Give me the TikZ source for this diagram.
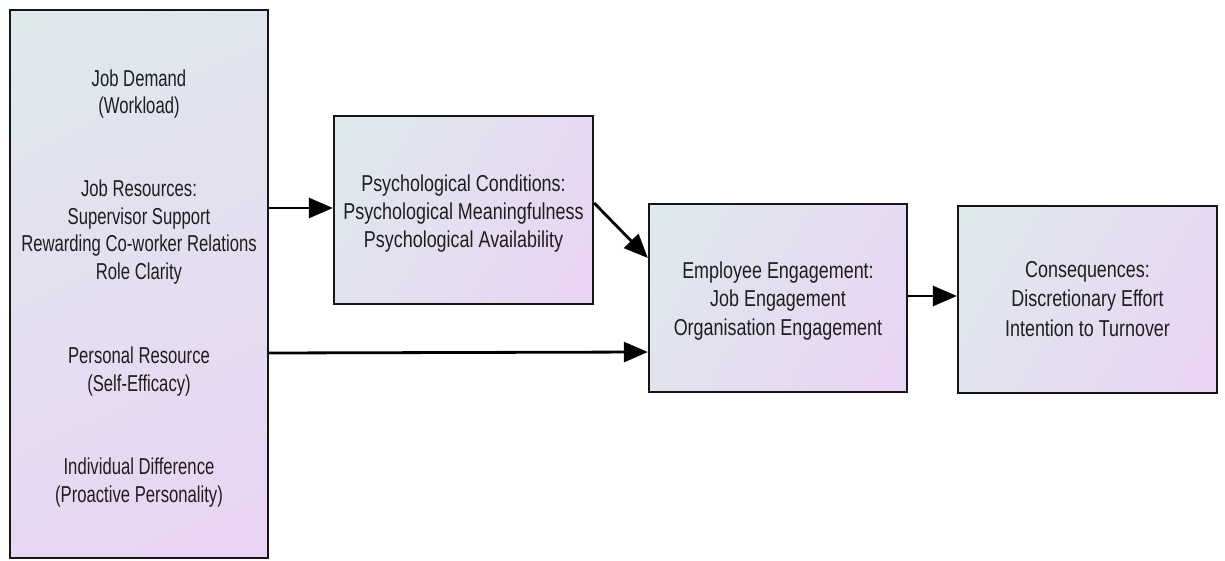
\documentclass[tikz,border=0pt]{standalone}
\usepackage{fontspec}
\setmainfont[FakeStretch=0.78]{Liberation Sans}
\newfontfamily\narrowfont[FakeStretch=0.725]{Liberation Sans}
\usetikzlibrary{arrows.meta}
\definecolor{boxstart}{RGB}{222,234,236}
\definecolor{boxend}{RGB}{234,211,244}
\definecolor{edge}{RGB}{22,22,22}
\definecolor{ink}{RGB}{30,30,30}
% corner-to-corner fill: lavender at the bottom end, grey-cyan at the top end
\pgfdeclareverticalshading{boxfade}{100bp}{color(0bp)=(boxend); color(16bp)=(boxend);
  color(84bp)=(boxstart); color(100bp)=(boxstart)}
% strut that pads the first line of a block's text
\newcommand\firstline[1]{\rule{0pt}{#1}}
\begin{document}
\begin{tikzpicture}[x=1pt,y=-1pt,
  block/.style={draw=edge, line width=2.3pt, rectangle, inner sep=0pt,
    shade, shading=boxfade, shading angle=60,
    align=center, text=ink,
    font=\fontsize{23}{28}\selectfont},
  link/.style={line width=2.8pt, draw=black,
    -{Triangle[length=24pt,width=20pt]}}]
  \useasboundingbox (0,0) rectangle (1225,561);

  % antecedents
  \node[block, minimum width=258pt, minimum height=548pt, shading angle=25,
        font=\narrowfont\fontsize{23}{27.5}\selectfont] (ante) at (139,284)
    {\firstline{25pt}Job Demand\\(Workload)\\[55.5pt]
     Job Resources:\\Supervisor Support\\Rewarding Co-worker Relations\\Role Clarity\\[57pt]
     Personal Resource\\(Self-Efficacy)\\[56pt]
     Individual Difference\\(Proactive Personality)};

  % mediators and outcomes
  \node[block, minimum width=259pt, minimum height=188pt] (psych) at (463.5,210)
    {\firstline{23pt}Psychological Conditions:\\Psychological Meaningfulness\\Psychological Availability};
  \node[block, minimum width=258pt, minimum height=188pt] (engage) at (778,298)
    {\firstline{22pt}Employee Engagement:\\Job Engagement\\[1pt]Organisation Engagement};
  \node[block, minimum width=259pt, minimum height=187pt] (conseq) at (1087.5,299.5)
    {Consequences:\\[1pt]Discretionary Effort\\[2pt]Intention to Turnover};

  % paths between constructs
  \draw[link] ([yshift=76pt]ante.east) -- ([yshift=2pt]psych.west);
  \draw[link] ([yshift=7pt]psych.east) -- ([yshift=40pt]engage.west);
  \draw[link] ([yshift=-69pt]ante.east) -- ([yshift=-54pt]engage.west);
  \draw[link] ([yshift=2pt]engage.east) -- ([yshift=3.5pt]conseq.west);
\end{tikzpicture}
\end{document}
